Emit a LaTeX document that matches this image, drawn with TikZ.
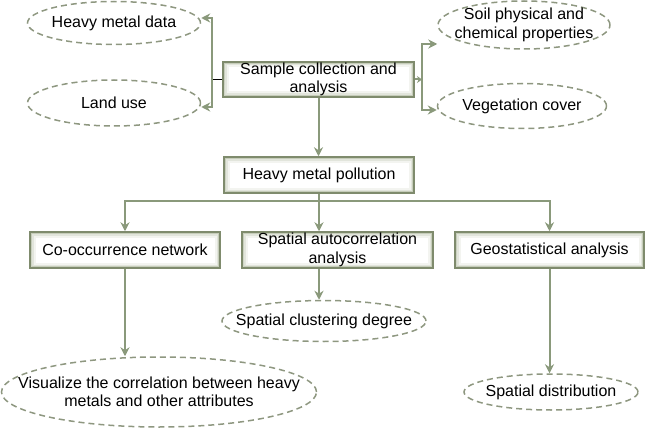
\documentclass[tikz,border=0pt]{standalone}
\usepackage{fontspec}
\setmainfont{Liberation Sans}
\usetikzlibrary{shapes.geometric,arrows.meta}

\definecolor{linegreen}{HTML}{8A997B}
\definecolor{dashgreen}{HTML}{8E9780}
\definecolor{boxrim}{HTML}{7F8B6D}
\definecolor{glowgreen}{HTML}{97A381}

\tikzset{
  procbox/.style={draw=boxrim, line width=1.5pt, minimum width=#1, minimum height=36pt,
    inner sep=0pt, align=center, font=\fontsize{16}{18.5}\selectfont,
    path picture={
      \draw[line width=11pt, glowgreen!12] (path picture bounding box.south west) rectangle (path picture bounding box.north east);
      \draw[line width=7pt, glowgreen!28] (path picture bounding box.south west) rectangle (path picture bounding box.north east);
      \draw[line width=3.5pt, glowgreen!55] (path picture bounding box.south west) rectangle (path picture bounding box.north east);
      \draw[line width=5pt, glowgreen!45] ([xshift=-2pt]path picture bounding box.north west) -- ([yshift=-2pt]path picture bounding box.south west) -- ([yshift=-2pt]path picture bounding box.south east);
    }},
  procbox/.default=190pt,
  resultell/.style={ellipse, draw=dashgreen, line width=1.5pt, dash pattern=on 6pt off 4pt,
    inner sep=0pt},
  elltext/.style={align=center, inner sep=0pt, font=\fontsize{16}{18.5}\selectfont},
  flow/.style={draw=linegreen, line width=2pt, -{Stealth[length=9pt,width=9pt]}},
  x=1pt, y=-1pt
}

\begin{document}
\begin{tikzpicture}
\useasboundingbox (0,0) rectangle (646,428);

% top row
\node[procbox=191pt, minimum height=35pt] (sample) at (318.5,79.5) {Sample collection and\\analysis};
\node[resultell, minimum width=173pt, minimum height=43pt,
  label={[elltext]center:Heavy metal data}] (hmd) at (114,23) {};
\node[resultell, minimum width=173pt, minimum height=46pt,
  label={[elltext]center:Land use}] (land) at (114,103) {};
\node[resultell, minimum width=172pt, minimum height=48pt,
  label={[elltext]center:Soil physical and\\chemical properties}] (soil) at (524,25) {};
\node[resultell, minimum width=169pt, minimum height=45pt,
  label={[elltext]center:Vegetation cover}] (veg) at (522,106) {};

% middle
\node[procbox] (hmp) at (319,175) {Heavy metal pollution};
\node[procbox] (cooc) at (125,250) {Co-occurrence network};
\node[procbox=191pt] (sac) at (337.5,250) {Spatial autocorrelation\\analysis};
\node[procbox=189pt] (geo) at (549.5,250) {Geostatistical analysis};

% results
\node[resultell, minimum width=315pt, minimum height=70pt,
  label={[elltext]center:Visualize the correlation between heavy\\metals and other attributes}] (vis) at (159,392) {};
\node[resultell, minimum width=204pt, minimum height=41pt,
  label={[elltext]center:Spatial clustering degree}] (scd) at (324,321) {};
\node[resultell, minimum width=174pt, minimum height=36pt,
  label={[elltext]center:Spatial distribution}] (sd) at (551,392) {};

% brackets
\coordinate (lb) at (212,79.5);
\coordinate (rb) at (422,79.5);
\draw[black, line width=1pt] (sample.west) -- (lb);
\draw[flow] (lb) |- ([yshift=5pt]hmd.east);
\draw[flow] (lb) |- ([yshift=-4pt]land.east);
\draw[flow, -{Stealth[length=5pt,width=7pt]}] (sample.east) -- (rb);
\draw[flow] (rb) |- ([yshift=-19pt]soil.west);
\draw[flow] (rb) |- ([yshift=-4pt]veg.west);

% main flow
\draw[flow] (sample.south) -- (sample.south |- hmp.north);
\coordinate (split) at (319,201);
\draw[draw=linegreen, line width=2pt] (hmp.south) -- (split);
\draw[flow] (split) -| (cooc.north);
\draw[flow] (split) -- (split |- sac.north);
\draw[flow] (split) -| (geo.north);
\draw[flow] (cooc.south) -- (cooc.south |- vis.north);
\draw[flow] (split |- sac.south) -- (split |- scd.north);
\draw[flow] (geo.south) -- (geo.south |- sd.north);
\end{tikzpicture}
\end{document}
